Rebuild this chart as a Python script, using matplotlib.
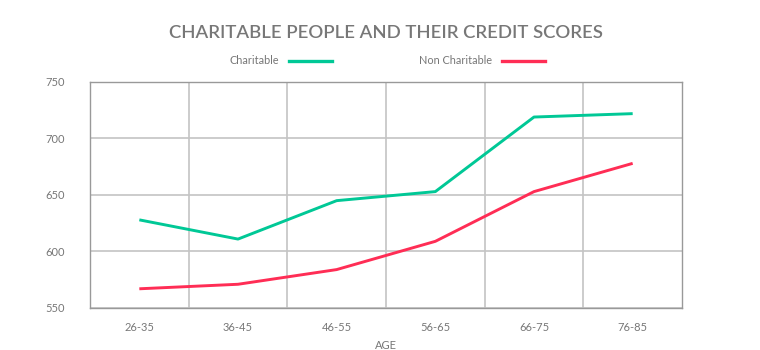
import matplotlib
matplotlib.use("Agg")
import matplotlib.pyplot as plt
from matplotlib.lines import Line2D

age_groups = ["26-35", "36-45", "46-55", "56-65", "66-75", "76-85"]
charitable = [628, 611, 645, 653, 719, 722]
non_charitable = [567, 571, 584, 609, 653, 678]
y_ticks = [550, 600, 650, 700, 750]

GREEN = "#00c896"
RED = "#ff2d55"
TEXT = "#777777"
GRID = "#c4c4c4"

plt.rcParams["font.family"] = ["Lato", "DejaVu Sans"]

fig = plt.figure(figsize=(7.6, 3.5), dpi=100)
ax = fig.add_axes([90 / 760, 1 - 308 / 350, 592 / 760, 226 / 350])

x = list(range(len(age_groups)))
ax.plot(x, charitable, color=GREEN, lw=2.1, solid_capstyle="butt", zorder=3)
ax.plot(x, non_charitable, color=RED, lw=2.1, solid_capstyle="butt", zorder=3)

ax.set_xlim(-0.5, len(age_groups) - 0.5)
ax.set_ylim(550, 750)
ax.set_yticks(y_ticks)
ax.set_xticks(x)
ax.set_xticklabels(age_groups)
ax.set_xticks([i + 0.5 for i in x[:-1]], minor=True)

ax.grid(True, axis="y", which="major", color=GRID, lw=1.2)
ax.grid(True, axis="x", which="minor", color=GRID, lw=1.2)
ax.tick_params(axis="both", which="both", length=0, colors=TEXT, labelsize=8)
ax.tick_params(axis="x", pad=10)
ax.tick_params(axis="y", pad=18)
for s in ax.spines.values():
    s.set_color("#999999")
    s.set_linewidth(1.0)

ax.set_xlabel("AGE", color=TEXT, fontsize=8, labelpad=5)

fig.text(386 / 760, 1 - 33 / 350, "CHARITABLE PEOPLE AND THEIR CREDIT SCORES",
         ha="center", va="center", color=TEXT, fontsize=13.3,
         fontweight="semibold")

# legend drawn as text + swatch lines
fig.text(279 / 760, 1 - 61 / 350, "Charitable", ha="right", va="center",
         color=TEXT, fontsize=7.8)
fig.add_artist(Line2D([289 / 760, 332 / 760], [1 - 61 / 350] * 2,
                      color=GREEN, lw=2.4, transform=fig.transFigure))
fig.text(492 / 760, 1 - 61 / 350, "Non Charitable", ha="right", va="center",
         color=TEXT, fontsize=7.8)
fig.add_artist(Line2D([502 / 760, 545 / 760], [1 - 61 / 350] * 2,
                      color=RED, lw=2.4, transform=fig.transFigure))

fig.savefig("out.png", dpi=100)
